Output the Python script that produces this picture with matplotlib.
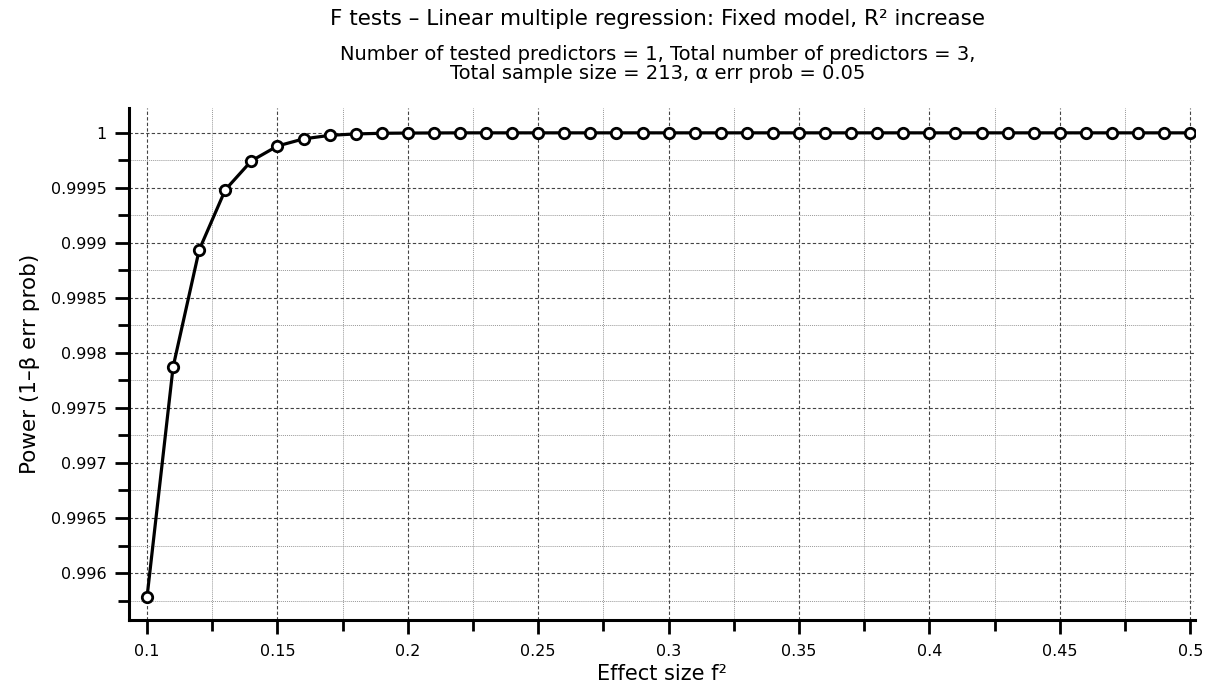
import numpy as np
import matplotlib.pyplot as plt
from matplotlib.ticker import MultipleLocator, FuncFormatter

# effect size f^2 and power
effect_size = [0.10, 0.11, 0.12, 0.13, 0.14, 0.15, 0.16, 0.17, 0.18, 0.19,
               0.20, 0.21, 0.22, 0.23, 0.24, 0.25, 0.26, 0.27, 0.28, 0.29,
               0.30, 0.31, 0.32, 0.33, 0.34, 0.35, 0.36, 0.37, 0.38, 0.39,
               0.40, 0.41, 0.42, 0.43, 0.44, 0.45, 0.46, 0.47, 0.48, 0.49, 0.50]
power = [0.995782, 0.997873, 0.998936, 0.999482, 0.999745, 0.999880,
         0.999945, 0.999977, 0.999990, 0.999996, 0.999998, 0.999999,
         1.0, 1.0, 1.0, 1.0, 1.0, 1.0, 1.0, 1.0, 1.0, 1.0, 1.0, 1.0, 1.0,
         1.0, 1.0, 1.0, 1.0, 1.0, 1.0, 1.0, 1.0, 1.0, 1.0, 1.0, 1.0, 1.0,
         1.0, 1.0, 1.0]

x_ticks = [0.1, 0.15, 0.2, 0.25, 0.3, 0.35, 0.4, 0.45, 0.5]
y_ticks = [0.996, 0.9965, 0.997, 0.9975, 0.998, 0.9985, 0.999, 0.9995, 1.0]

plt.rcParams['font.family'] = ['DejaVu Sans']

fig = plt.figure(figsize=(12.06, 6.87), dpi=100)
ax = fig.add_axes([0.107, 0.0975, 0.884, 0.7455])

ax.plot(effect_size, power, color='black', linewidth=2.3, marker='o',
        markersize=7.5, markerfacecolor='white', markeredgecolor='black',
        markeredgewidth=2, zorder=3)

ax.set_xlim(0.0931, 0.5019)
ax.set_ylim(0.995573, 1.000227)

ax.set_xticks(x_ticks)
ax.set_yticks(y_ticks)
ax.xaxis.set_minor_locator(MultipleLocator(0.025))
ax.yaxis.set_minor_locator(MultipleLocator(0.00025))
ax.xaxis.set_major_formatter(FuncFormatter(lambda v, p: f'{v:g}'))
ax.yaxis.set_major_formatter(FuncFormatter(lambda v, p: f'{round(v, 6):g}'))

ax.grid(which='major', color='#444444', linestyle=(0, (3, 2)), linewidth=0.8)
ax.grid(which='minor', color='#999999', linestyle=(0, (1, 1)), linewidth=0.7)

for s in ['top', 'right']:
    ax.spines[s].set_visible(False)
for s in ['left', 'bottom']:
    ax.spines[s].set_linewidth(2.2)

ax.tick_params(which='major', direction='out', length=10, width=2, labelsize=11.5)
ax.tick_params(which='minor', direction='out', length=8, width=2)
ax.tick_params(axis='x', pad=7)
ax.tick_params(axis='y', pad=6)

ax.set_xlabel('Effect size f²', fontsize=15, labelpad=4)
ax.set_ylabel('Power (1–β err prob)', fontsize=15.5, labelpad=8)

fig.text(0.545, 0.972, 'F tests – Linear multiple regression: Fixed model, R² increase',
         ha='center', va='center', fontsize=15.5)
fig.text(0.545, 0.907, 'Number of tested predictors = 1, Total number of predictors = 3,\nTotal sample size = 213, α err prob = 0.05',
         ha='center', va='center', fontsize=14, linespacing=1.0)

fig.savefig('out.png', dpi=100)
